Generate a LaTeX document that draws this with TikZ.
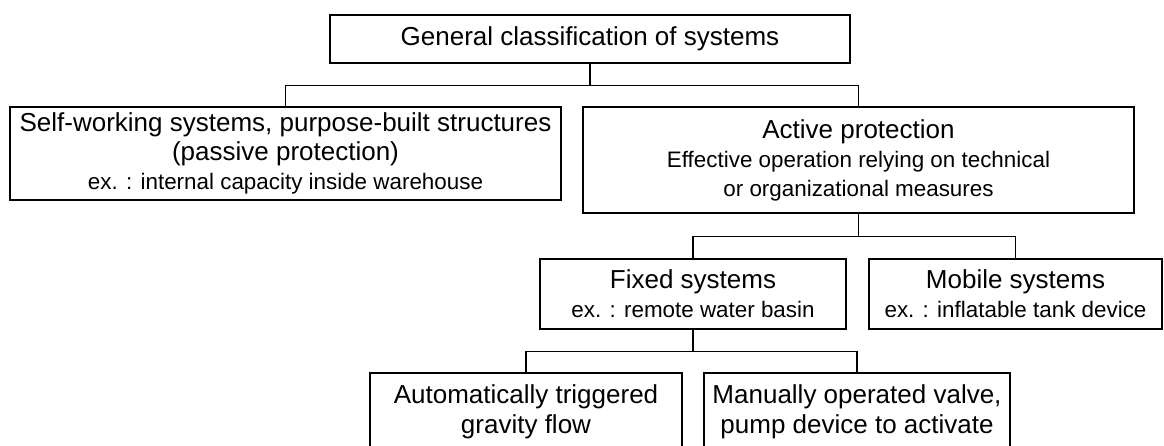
\documentclass[tikz,border=0pt]{standalone}
\usepackage{fontspec}
\setmainfont{Liberation Sans}
\usetikzlibrary{positioning}
\newcommand\bigtxt{\fontsize{26}{30}\selectfont}
\newcommand\smalltxt{\fontsize{22.4}{29}\selectfont}
\tikzset{
    block/.style = {draw, rectangle, line width=1.2pt,
        inner sep=0pt, align=center, font=\smalltxt},
    link/.style = {draw, line width=1.2pt}
}

\begin{document}
\begin{tikzpicture}[x=1pt,y=-1pt]
            \useasboundingbox (0,0) rectangle (1164,446);
            \clip (0,0) rectangle (1164,446);
            % top level
            \node [block,minimum width=520pt,minimum height=48pt] (gen) at (590,39) {\bigtxt General classification of systems};
            % second level
            \node [block,minimum width=551pt,minimum height=93pt] (passive) at (285.5,153.5)
                {{\bigtxt Self-working systems, purpose-built structures}\\{\bigtxt (passive protection)}\\ex. : internal capacity inside warehouse};
            \node [block,minimum width=551pt,minimum height=106pt] (active) at (858.5,160)
                {{\bigtxt Active protection}\\Effective operation relying on technical\\or organizational measures};
            % third level
            \node [block,minimum width=306pt,minimum height=70pt] (fixed) at (693,294)
                {{\bigtxt Fixed systems}\\ex. : remote water basin};
            \node [block,minimum width=293pt,minimum height=70pt] (mobile) at (1015.5,294)
                {{\bigtxt Mobile systems}\\ex. : inflatable tank device};
            % fourth level, runs past the bottom edge
            \node [block,minimum width=312pt,minimum height=78pt,font=\bigtxt] (auto) at (526,412)
                {Automatically triggered\\gravity flow};
            \node [block,minimum width=306pt,minimum height=78pt,font=\bigtxt] (manual) at (857,412)
                {Manually operated valve,\\pump device to activate};
            % tree lines
            \draw [link] (gen.south) -- ++(0,22) -| (passive.north);
            \draw [link] (gen.south) -- ++(0,22) -| (active.north);
            \draw [link] (active.south) -- ++(0,23) -| (fixed.north);
            \draw [link] (active.south) -- ++(0,23) -| (mobile.north);
            \draw [link] (fixed.south) -- ++(0,22) -| (auto.north);
            \draw [link] (fixed.south) -- ++(0,22) -| (manual.north);
        \end{tikzpicture}
\end{document}
